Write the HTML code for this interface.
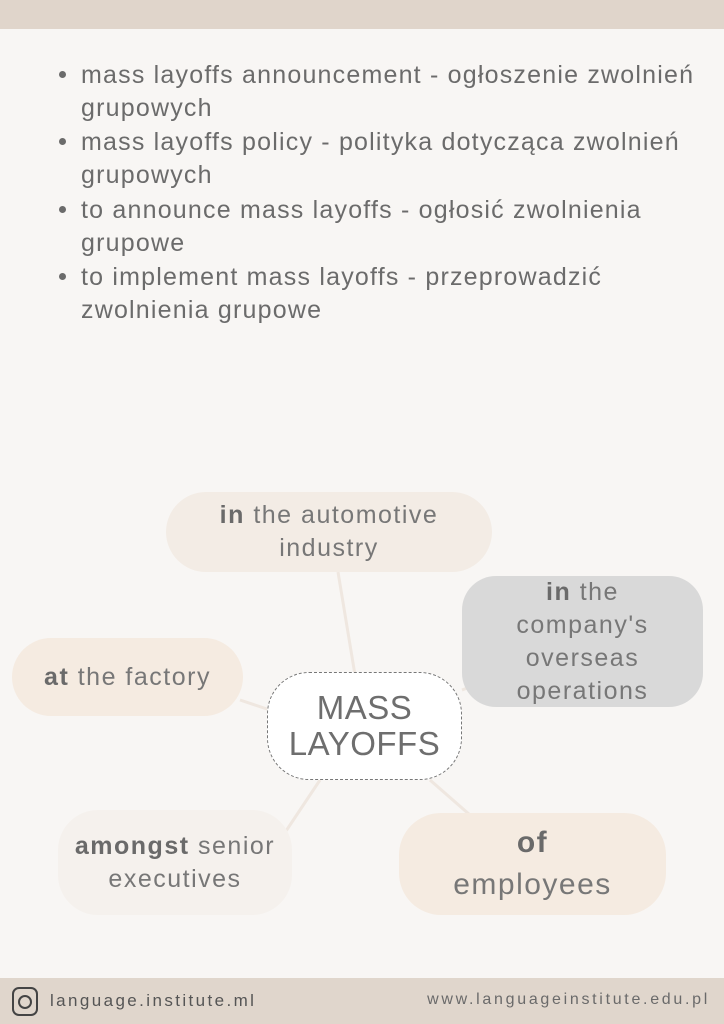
<!DOCTYPE html>
<html><head><meta charset="utf-8"><style>
*{margin:0;padding:0;box-sizing:border-box}
body{width:724px;height:1024px;background:#f8f6f4;position:relative;overflow:hidden;font-family:"Liberation Sans",sans-serif;color:#6b6b6b}
.t{position:absolute;left:81px;font-size:25px;letter-spacing:1.2px;white-space:nowrap;line-height:34px}
.b{position:absolute;left:59px;width:7px;height:7px;border-radius:50%;background:#6b6b6b}
.n{position:absolute;display:flex;align-items:center;justify-content:center;text-align:center;font-size:25px;letter-spacing:1.5px;line-height:33px;color:#777}
.n b{font-weight:bold;color:#6a6a6a}
</style></head><body>
<div style="position:absolute;left:0;top:0;width:724px;height:29px;background:#e0d5cb"></div>
<div class="b" style="top:71px"></div>
<div class="t" style="top:58px">mass layoffs announcement - ogłoszenie zwolnień</div>
<div class="t" style="top:91px">grupowych</div>
<div class="b" style="top:138px"></div>
<div class="t" style="top:125px">mass layoffs policy - polityka dotycząca zwolnień</div>
<div class="t" style="top:158px">grupowych</div>
<div class="b" style="top:206px"></div>
<div class="t" style="top:193px">to announce mass layoffs - ogłosić zwolnienia</div>
<div class="t" style="top:226px">grupowe</div>
<div class="b" style="top:273px"></div>
<div class="t" style="top:260px">to implement mass layoffs - przeprowadzić</div>
<div class="t" style="top:293px">zwolnienia grupowe</div>

<svg style="position:absolute;left:0;top:0" width="724" height="1024">
<g stroke="#efe7e0" stroke-width="3">
<line x1="338" y1="572" x2="355" y2="675"/>
<line x1="240" y1="700" x2="270" y2="710"/>
<line x1="462" y1="690" x2="475" y2="685"/>
<line x1="320" y1="780" x2="280" y2="840"/>
<line x1="430" y1="780" x2="470" y2="815"/>
</g></svg>

<div class="n" style="left:166px;top:492px;width:326px;height:80px;border-radius:40px;background:#f3ece5"><div><b>in</b> the automotive<br>industry</div></div>
<div class="n" style="left:462px;top:576px;width:241px;height:131px;border-radius:34px;background:#d9d9d9"><div><b>in</b> the<br>company's<br>overseas<br>operations</div></div>
<div class="n" style="left:12px;top:638px;width:231px;height:78px;border-radius:39px;background:#f5ebe1"><div><b>at</b> the factory</div></div>
<div class="n" style="left:267px;top:672px;width:195px;height:108px;border-radius:42px;background:#fff;border:1px dashed #777;font-size:33px;line-height:36px;color:#6e6e6e;letter-spacing:0.5px"><div>MASS<br>LAYOFFS</div></div>
<div class="n" style="left:58px;top:810px;width:234px;height:105px;border-radius:40px;background:#f5f1ed"><div><b>amongst</b> senior<br>executives</div></div>
<div class="n" style="left:399px;top:813px;width:267px;height:102px;border-radius:42px;background:#f5ebe1;font-size:30px;line-height:42px"><div><b>of</b><br>employees</div></div>

<div style="position:absolute;left:0;top:978px;width:724px;height:46px;background:#e0d6cc"></div>
<div style="position:absolute;left:12px;top:987px;width:26px;height:29px;border:2.5px solid #444;border-radius:7px"></div>
<div style="position:absolute;left:18px;top:995px;width:14px;height:14px;border:2.5px solid #444;border-radius:50%"></div>
<div style="position:absolute;left:50px;top:991px;font-size:17px;letter-spacing:2.4px;color:#555">language.institute.ml</div>
<div style="position:absolute;right:14px;top:991px;font-size:16px;letter-spacing:2.7px;color:#6a6a6a">www.languageinstitute.edu.pl</div>
</body></html>
